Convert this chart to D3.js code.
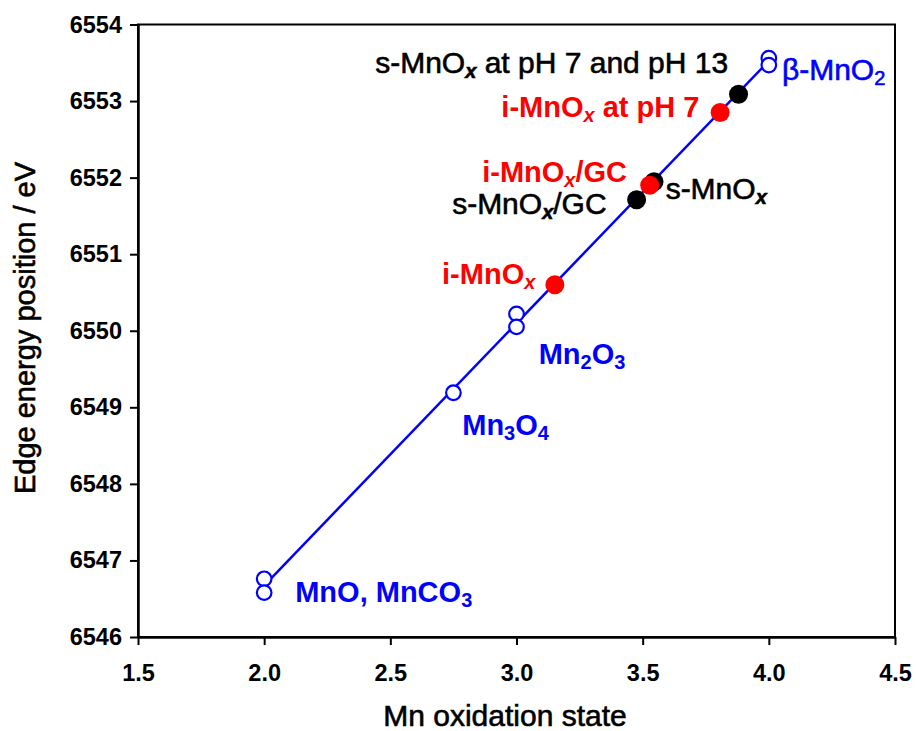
<!DOCTYPE html>
<html>
<head>
<meta charset="utf-8">
<script src="https://cdn.jsdelivr.net/npm/d3@7"></script>
<style>
  body { margin: 0; background: #fff; }
  svg { font-family: "Liberation Sans", Arial, sans-serif; }
</style>
</head>
<body>
<div id="main"></div>
<script>
// reference compounds (open blue circles)
var standardX = [2.0, 2.0, 2.75, 3.0, 3.0, 4.0, 4.0];
var standardY = [6546.76, 6546.58, 6549.19, 6550.22, 6550.05, 6553.56, 6553.47];

// samples
var sMnOxX = [3.545, 3.476, 3.88];
var sMnOxY = [6551.945, 6551.71, 6553.09];
var iMnOxX = [3.152, 3.528, 3.807];
var iMnOxY = [6550.60, 6551.90, 6552.85];

var xTicks = [1.5, 2.0, 2.5, 3.0, 3.5, 4.0, 4.5];
var yTicks = [6546, 6547, 6548, 6549, 6550, 6551, 6552, 6553, 6554];

// annotation text, parts: [text, kind]  kind: n normal, x italic subscript, s subscript
var labelText = [
    [["s-MnO", "n"], ["x", "x"], [" at pH 7 and pH 13", "n"]],
    [["i-MnO", "n"], ["x", "x"], [" at pH 7", "n"]],
    [["\u03b2-MnO", "n"], ["2", "s"]],
    [["i-MnO", "n"], ["x", "x"], ["/GC", "n"]],
    [["s-MnO", "n"], ["x", "x"], ["/GC", "n"]],
    [["s-MnO", "n"], ["x", "x"]],
    [["i-MnO", "n"], ["x", "x"]],
    [["Mn", "n"], ["2", "s"], ["O", "n"], ["3", "s"]],
    [["Mn", "n"], ["3", "s"], ["O", "n"], ["4", "s"]],
    [["MnO, MnCO", "n"], ["3", "s"]]
];
var labelX = [2.440, 2.940, 4.052, 2.864, 2.745, 3.591, 2.705, 3.088, 2.785, 2.123];
var labelY = [6553.362, 6552.795, 6553.275, 6551.945, 6551.523, 6551.719, 6550.617, 6549.571, 6548.634, 6546.455];
var labelGroup = ["s", "i", "std", "i", "s", "s", "i", "std", "std", "std"];
var labelBold = [false, true, false, true, false, false, true, true, true, true];

var ctx = {
    w: 916,
    h: 731,
    left: 138,
    right: 895,
    top: 24.5,
    bottom: 637
};
var colors = { std: "#0000ff", s: "#000000", i: "#ff0000" };

var svg = d3.select("#main").append("svg")
    .attr("width", ctx.w)
    .attr("height", ctx.h);

var x = d3.scaleLinear().domain([1.5, 4.5]).range([ctx.left, ctx.right]);
var y = d3.scaleLinear().domain([6546, 6554]).range([ctx.bottom, ctx.top]);

// frame
svg.append("rect")
    .attr("x", ctx.left).attr("y", ctx.top)
    .attr("width", ctx.right - ctx.left).attr("height", ctx.bottom - ctx.top)
    .attr("fill", "none").attr("stroke", "#000").attr("stroke-width", 2);

var xAxis = svg.append("g")
    .attr("transform", "translate(0," + ctx.bottom + ")")
    .call(d3.axisBottom(x).tickValues(xTicks).tickFormat(d3.format(".1f"))
        .tickSize(8).tickSizeOuter(0).tickPadding(19));
var yAxis = svg.append("g")
    .attr("transform", "translate(" + ctx.left + ",0)")
    .call(d3.axisLeft(y).tickValues(yTicks).tickFormat(d3.format("d"))
        .tickSize(8).tickSizeOuter(0).tickPadding(8));

[xAxis, yAxis].forEach(function(a) {
    a.select(".domain").attr("stroke-width", 2.5);
    a.selectAll(".tick line").attr("stroke-width", 2);
    a.selectAll(".tick text")
        .attr("fill", "#000")
        .style("font-size", "23.5px")
        .style("font-weight", "bold")
        .style("font-family", "'Liberation Sans', Arial, sans-serif");
});

// axis titles (regular weight, slightly thickened like the original rendering)
svg.append("text")
    .attr("x", 505)
    .attr("y", 726)
    .attr("text-anchor", "middle")
    .attr("stroke", "#000").attr("stroke-width", 0.6)
    .style("font-size", "30px")
    .text("Mn oxidation state");

svg.append("text")
    .attr("transform", "translate(35,328) rotate(-90)")
    .attr("text-anchor", "middle")
    .attr("stroke", "#000").attr("stroke-width", 0.6)
    .style("font-size", "29px")
    .text("Edge energy position / eV");

// linear fit through the reference compounds
var mx = d3.mean(standardX), my = d3.mean(standardY);
var sxy = d3.sum(standardX, function(d, i) { return (d - mx) * (standardY[i] - my); });
var sxx = d3.sum(standardX, function(d) { return (d - mx) * (d - mx); });
var slope = sxy / sxx, icpt = my - slope * mx;
var fitX = d3.extent(standardX);

svg.append("path")
    .datum(fitX)
    .attr("d", d3.line().x(function(d) { return x(d); }).y(function(d) { return y(icpt + slope * d); }))
    .attr("stroke", colors.std)
    .attr("stroke-width", 2.5)
    .attr("fill", "none");

svg.selectAll(".std")
    .data(standardX)
    .enter().append("circle")
    .attr("class", "std")
    .attr("cx", function(d) { return x(d); })
    .attr("cy", function(d, i) { return y(standardY[i]); })
    .attr("r", 7.3)
    .attr("fill", "#fff")
    .attr("stroke", colors.std)
    .attr("stroke-width", 2.2);

svg.selectAll(".smp-s")
    .data(sMnOxX)
    .enter().append("circle")
    .attr("class", "smp-s")
    .attr("cx", function(d) { return x(d); })
    .attr("cy", function(d, i) { return y(sMnOxY[i]); })
    .attr("r", 9.5)
    .attr("fill", colors.s);

svg.selectAll(".smp-i")
    .data(iMnOxX)
    .enter().append("circle")
    .attr("class", "smp-i")
    .attr("cx", function(d) { return x(d); })
    .attr("cy", function(d, i) { return y(iMnOxY[i]); })
    .attr("r", 9.5)
    .attr("fill", colors.i);

// labels
var lab = svg.selectAll(".lab")
    .data(labelText)
    .enter().append("text")
    .attr("class", "lab")
    .attr("x", function(d, i) { return x(labelX[i]); })
    .attr("y", function(d, i) { return y(labelY[i]); })
    .attr("fill", function(d, i) { return colors[labelGroup[i]]; })
    .attr("stroke", function(d, i) { return labelBold[i] ? "none" : colors[labelGroup[i]]; })
    .attr("stroke-width", 0.6)
    .style("font-size", function(d, i) { return labelBold[i] ? "29px" : "30px"; })
    .style("font-weight", function(d, i) { return labelBold[i] ? "bold" : "normal"; });

lab.each(function(parts) {
    var t = d3.select(this), shift = 0;
    parts.forEach(function(p) {
        var ts = t.append("tspan").text(p[0]);
        var want = p[1] == "n" ? 0 : 5;
        if (want != shift) { ts.attr("dy", want - shift); shift = want; }
        if (p[1] != "n") ts.style("font-size", "20px");
        if (p[1] == "x") ts.style("font-style", "italic").style("font-weight", "bold");
    });
});
</script>
</body>
</html>
